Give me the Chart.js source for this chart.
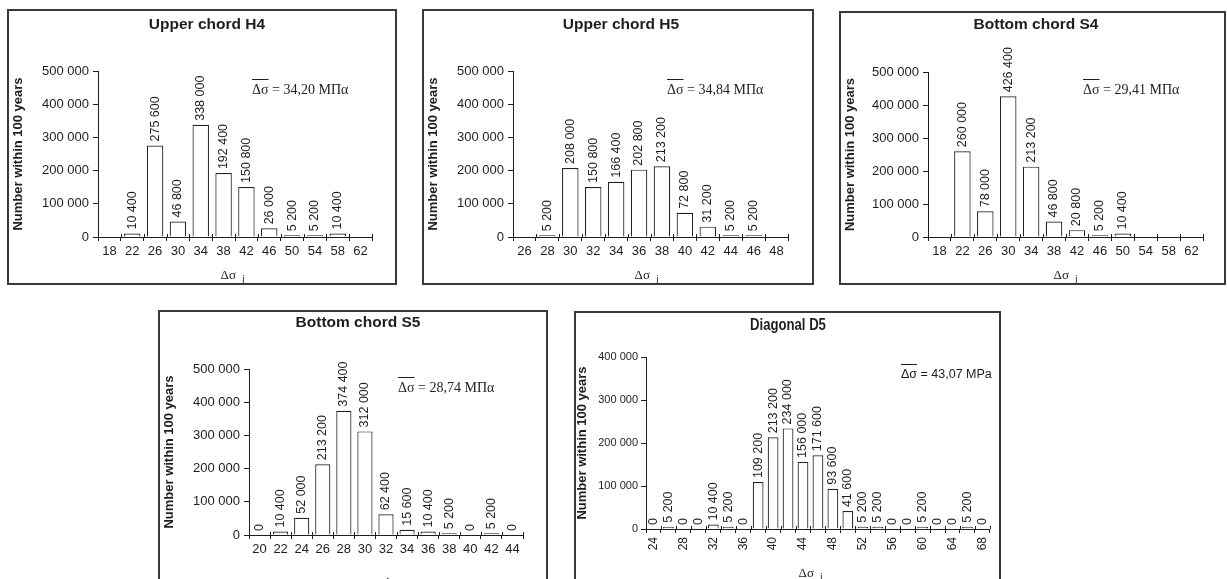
<!DOCTYPE html>
<html>
<head>
<meta charset="utf-8">
<script src="https://cdn.jsdelivr.net/npm/chart.js@4"></script>
<style>
  html, body { margin: 0; padding: 0; background: #fff; overflow: hidden; }
  body { width: 1227px; height: 579px; position: relative; }
  canvas { position: absolute; }
  .box { position: absolute; box-sizing: border-box; border: 2px solid #3a3a3a; pointer-events: none; }
</style>
</head>
<body>
<canvas id="h4"></canvas>
<canvas id="h5"></canvas>
<canvas id="s4"></canvas>
<canvas id="s5"></canvas>
<canvas id="d5"></canvas>
<script>
// values (null = no bar, no label)
const h4Labels = ['18', '22', '26', '30', '34', '38', '42', '46', '50', '54', '58', '62'];
const h4Values = [null, 10400, 275600, 46800, 338000, 192400, 150800, 26000, 5200, 5200, 10400, null];
const h4Mean = '34,20 MΠα';

const h5Labels = ['26', '28', '30', '32', '34', '36', '38', '40', '42', '44', '46', '48'];
const h5Values = [null, 5200, 208000, 150800, 166400, 202800, 213200, 72800, 31200, 5200, 5200, null];
const h5Mean = '34,84 MΠα';

const s4Labels = ['18', '22', '26', '30', '34', '38', '42', '46', '50', '54', '58', '62'];
const s4Values = [null, 260000, 78000, 426400, 213200, 46800, 20800, 5200, 10400, null, null, null];
const s4Mean = '29,41 MΠα';

const s5Labels = ['20', '22', '24', '26', '28', '30', '32', '34', '36', '38', '40', '42', '44'];
const s5Values = [0, 10400, 52000, 213200, 374400, 312000, 62400, 15600, 10400, 5200, 0, 5200, 0];
const s5Mean = '28,74 MΠα';

const d5Labels = ['24', '26', '28', '30', '32', '34', '36', '38', '40', '42', '44', '46',
                  '48', '50', '52', '54', '56', '58', '60', '62', '64', '66', '68'];
const d5Values = [0, 5200, 0, 0, 10400, 5200, 0, 109200, 213200, 234000, 156000, 171600,
                  93600, 41600, 5200, 5200, 0, 0, 5200, 0, 0, 5200, 0];
const d5Mean = '43,07 MPa';

const SANS = "'Liberation Sans', Arial, sans-serif";
const SERIF = "'Liberation Serif', 'Times New Roman', serif";
const INK = '#1e1e1e';

const fmt = v => String(v).replace(/\B(?=(\d{3})+(?!\d))/g, ' ');

// titles, value labels, mean annotation, x-axis title and the small tick stubs above the axis
const panelPlugin = {
  id: 'panel',
  afterDraw(chart, args, o) {
    const ctx = chart.ctx;
    const xs = chart.scales.x;
    const area = chart.chartArea;
    ctx.save();
    ctx.fillStyle = INK;

    ctx.save();
    ctx.translate(o.titleX, o.titleY);
    ctx.scale(o.titleSqueeze, 1);
    ctx.font = 'bold ' + o.titleSize + 'px ' + SANS;
    ctx.textAlign = 'center';
    ctx.textBaseline = 'middle';
    ctx.fillText(o.title, 0, 0);
    ctx.restore();

    ctx.strokeStyle = INK;
    ctx.lineWidth = 1;
    const n = xs.ticks.length;
    const w = (xs.right - xs.left) / n;
    for (let i = 0; i <= n; i++) {
      const px = Math.round(xs.left + i * w) + 0.5;
      ctx.beginPath();
      ctx.moveTo(px, area.bottom - 3);
      ctx.lineTo(px, area.bottom);
      ctx.stroke();
    }

    const data = chart.data.datasets[0].data;
    const meta = chart.getDatasetMeta(0);
    ctx.font = '12.5px ' + SANS;
    meta.data.forEach((bar, i) => {
      if (data[i] === null) return;
      ctx.save();
      ctx.translate(bar.x, bar.y - 4);
      ctx.rotate(-Math.PI / 2);
      ctx.textAlign = 'left';
      ctx.textBaseline = 'middle';
      ctx.fillText(fmt(data[i]), 0, 0);
      ctx.restore();
    });

    // mean value with bar over delta-sigma
    ctx.font = o.meanFont;
    ctx.textAlign = 'left';
    ctx.textBaseline = 'middle';
    ctx.fillText('Δσ = ' + o.mean, o.meanX, o.meanY);
    const ds = ctx.measureText('Δσ').width;
    ctx.beginPath();
    ctx.moveTo(o.meanX, o.meanY - 10.5);
    ctx.lineTo(o.meanX + ds, o.meanY - 10.5);
    ctx.stroke();

    // x-axis title: delta-sigma with lowered i
    ctx.font = '13px ' + SERIF;
    const a = ctx.measureText('Δσ ').width;
    ctx.font = '10px ' + SANS;
    const b = ctx.measureText('i').width;
    const sx = o.xTitleX - (a + b) / 2;
    ctx.font = '13px ' + SERIF;
    ctx.fillText('Δσ', sx, o.xTitleY);
    ctx.font = '10px ' + SANS;
    ctx.fillText('i', sx + a + 3, o.xTitleY + 4);
    ctx.restore();
  }
};

function makePanel(id, p) {
  const cv = document.getElementById(id);
  cv.width = p.w;
  cv.height = p.h;
  cv.style.left = p.left + 'px';
  cv.style.top = p.top + 'px';

  const box = document.createElement('div');
  box.className = 'box';
  box.style.left = p.left + 'px';
  box.style.top = p.top + 'px';
  box.style.width = p.w + 'px';
  box.style.height = p.h + 'px';
  document.body.appendChild(box);

  return new Chart(cv.getContext('2d'), {
    type: 'bar',
    data: {
      labels: p.labels,
      datasets: [{
        data: p.values,
        backgroundColor: '#ffffff',
        borderColor: '#222222',
        borderWidth: 1.2,
        barPercentage: 0.72,
        categoryPercentage: 1.0,
      }]
    },
    options: {
      responsive: false,
      animation: false,
      devicePixelRatio: 1,
      layout: {
        padding: { left: 0, top: p.area.top, right: p.w - p.area.right, bottom: 0 }
      },
      scales: {
        x: {
          offset: true,
          afterFit: s => { s.height = p.h - p.area.bottom; },
          grid: {
            offset: true,
            drawOnChartArea: false,
            tickLength: 4,
            color: INK,
          },
          border: { display: true, color: INK, width: 1 },
          ticks: {
            autoSkip: false,
            maxRotation: p.rotate ? 90 : 0,
            minRotation: p.rotate ? 90 : 0,
            padding: p.rotate ? 4 : 3,
            color: INK,
            font: { family: SANS, size: p.tickSize },
            callback: function (v, i) {
              if (p.every && i % p.every !== 0) return '';
              return this.getLabelForValue(v);
            }
          }
        },
        y: {
          min: 0,
          max: p.yMax,
          afterFit: s => { s.width = p.area.left; },
          grid: {
            drawOnChartArea: false,
            tickLength: 5,
            color: INK,
          },
          border: { display: true, color: INK, width: 1 },
          ticks: {
            stepSize: 100000,
            padding: p.tickPad,
            color: INK,
            font: { family: SANS, size: p.yTickSize || p.tickSize },
            callback: v => fmt(v)
          },
          title: {
            display: true,
            text: 'Number within 100 years',
            color: INK,
            font: { family: SANS, size: 13, weight: 'bold' },
            padding: { top: p.yTitlePad, bottom: 0 }
          }
        }
      },
      plugins: {
        legend: { display: false },
        tooltip: { enabled: false },
        title: { display: false },
        panel: {
          title: p.title,
          titleSize: p.titleSize || 15.5,
          titleSqueeze: p.titleSqueeze || 1,
          titleX: p.titleX,
          titleY: p.titleY,
          mean: p.mean,
          meanFont: p.meanFont,
          meanX: p.meanX,
          meanY: p.meanY,
          xTitleX: p.xTitleX,
          xTitleY: p.xTitleY,
        }
      }
    },
    plugins: [panelPlugin]
  });
}

const serifMean = '14px ' + SERIF;

makePanel('h4', {
  left: 7, top: 9, w: 390, h: 276,
  area: { left: 91, top: 62, right: 365, bottom: 228 },
  labels: h4Labels, values: h4Values, yMax: 500000,
  title: 'Upper chord H4', titleX: 200, titleY: 16,
  mean: h4Mean, meanFont: serifMean, meanX: 245, meanY: 81,
  xTitleX: 224, xTitleY: 267,
  tickSize: 13, tickPad: 4, yTitlePad: 4,
});

makePanel('h5', {
  left: 422, top: 9, w: 392, h: 276,
  area: { left: 91, top: 62, right: 366, bottom: 228 },
  labels: h5Labels, values: h5Values, yMax: 500000,
  title: 'Upper chord H5', titleX: 199, titleY: 16,
  mean: h5Mean, meanFont: serifMean, meanX: 245, meanY: 81,
  xTitleX: 223, xTitleY: 267,
  tickSize: 13, tickPad: 4, yTitlePad: 4,
});

makePanel('s4', {
  left: 839, top: 11, w: 387, h: 274,
  area: { left: 89, top: 61, right: 364, bottom: 226 },
  labels: s4Labels, values: s4Values, yMax: 500000,
  title: 'Bottom chord S4', titleX: 197, titleY: 14,
  mean: s4Mean, meanFont: serifMean, meanX: 244, meanY: 79,
  xTitleX: 225, xTitleY: 265,
  tickSize: 13, tickPad: 4, yTitlePad: 4,
});

makePanel('s5', {
  left: 158, top: 310, w: 390, h: 290,
  area: { left: 91, top: 59, right: 365, bottom: 225 },
  labels: s5Labels, values: s5Values, yMax: 500000,
  title: 'Bottom chord S5', titleX: 200, titleY: 13,
  mean: s5Mean, meanFont: serifMean, meanX: 240, meanY: 78,
  xTitleX: 236, xTitleY: 273,
  tickSize: 13, tickPad: 4, yTitlePad: 4,
});

makePanel('d5', {
  left: 574, top: 311, w: 427, h: 290,
  area: { left: 72, top: 46, right: 419, bottom: 218 },
  labels: d5Labels, values: d5Values, yMax: 400000,
  rotate: true, every: 2,
  title: 'Diagonal D5', titleSize: 16, titleSqueeze: 0.82, titleX: 214, titleY: 15,
  mean: d5Mean, meanFont: '12.5px ' + SANS, meanX: 327, meanY: 64,
  xTitleX: 235, xTitleY: 263,
  tickSize: 12, yTickSize: 11, tickPad: 3, yTitlePad: 1,
});
</script>
</body>
</html>
